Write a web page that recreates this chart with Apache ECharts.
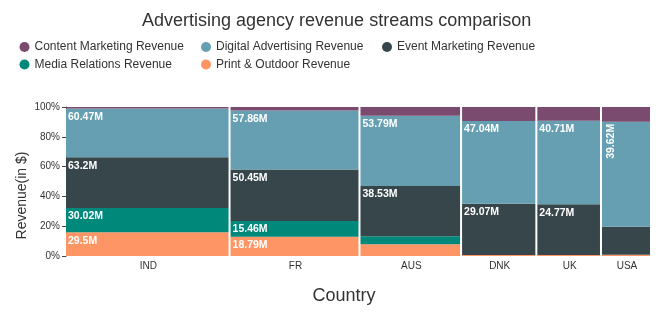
<!DOCTYPE html>
<html>
<head>
<meta charset="utf-8">
<script src="https://cdn.jsdelivr.net/npm/echarts@6/dist/echarts.min.js"></script>
<style>html,body{margin:0;padding:0;background:#fff;}#c{width:664px;height:322px;}</style>
</head>
<body>
<div id="c"></div>
<script>
const countries = ['IND', 'FR', 'AUS', 'DNK', 'UK', 'USA'];
const contentMarketing = [1.8, 3.5, 6.8, 7.9, 6.7, 5.6];
const digitalAdvertising = [60.47, 57.86, 53.79, 47.04, 40.71, 39.62];
const eventMarketing = [63.2, 50.45, 38.53, 29.07, 24.77, 10.5];
const mediaRelations = [30.02, 15.46, 6.0, 0, 0, 0];
const printOutdoor = [29.5, 18.79, 9.1, 0.6, 0.5, 0.5];
const yTicks = [0, 20, 40, 60, 80, 100];

const seriesDefs = [
  { name: 'Print & Outdoor Revenue', values: printOutdoor, color: '#fe9564' },
  { name: 'Media Relations Revenue', values: mediaRelations, color: '#00897b' },
  { name: 'Event Marketing Revenue', values: eventMarketing, color: '#37464b' },
  { name: 'Digital Advertising Revenue', values: digitalAdvertising, color: '#669fb2' },
  { name: 'Content Marketing Revenue', values: contentMarketing, color: '#7a4a6f' }
];

const totals = countries.map((c, i) => seriesDefs.reduce((s, d) => s + d.values[i], 0));
const starts = [];
let acc = 0;
totals.forEach(t => { starts.push(acc); acc += t; });
const grand = acc;
const mids = totals.map((t, i) => starts[i] + t / 2);

const FONT = '"Liberation Sans", Arial, Helvetica, sans-serif';

function renderItem(params, api) {
  const x0 = api.coord([api.value(0), 0])[0];
  const x1 = api.coord([api.value(1), 0])[0] - 2;
  const yTop = api.coord([0, api.value(3)])[1];
  const yBot = api.coord([0, api.value(2)])[1];
  const w = x1 - x0, h = yBot - yTop;
  const children = [{
    type: 'rect',
    shape: { x: x0, y: yTop, width: w, height: h },
    style: { fill: api.visual('color') }
  }];
  const txt = api.value(4) + 'M';
  if (w >= 55 && h >= 15) {
    children.push({
      type: 'text', x: x0 + 2, y: yTop + 3,
      style: { text: txt, fill: '#fff', font: 'bold 10.5px ' + FONT, align: 'left', verticalAlign: 'top' }
    });
  } else if (w < 55 && h >= 45) {
    children.push({
      type: 'text', x: x0 + 9, y: yTop + 2, rotation: Math.PI / 2,
      style: { text: txt, fill: '#fff', font: 'bold 10.5px ' + FONT, align: 'right', verticalAlign: 'middle' }
    });
  }
  return { type: 'group', children: children };
}

const series = seriesDefs.map((d, si) => {
  const data = countries.map((c, i) => {
    let below = 0;
    for (let k = 0; k < si; k++) below += seriesDefs[k].values[i];
    const lo = below / totals[i] * 100;
    const hi = (below + d.values[i]) / totals[i] * 100;
    return [starts[i], starts[i] + totals[i], lo, hi, d.values[i]];
  });
  return {
    type: 'custom', name: d.name, renderItem: renderItem,
    itemStyle: { color: d.color },
    encode: { x: [0, 1], y: [2, 3] },
    data: data, clip: false
  };
});

const legendNames = ['Content Marketing Revenue', 'Digital Advertising Revenue', 'Event Marketing Revenue', 'Media Relations Revenue', 'Print & Outdoor Revenue'];
const legendCols = [14.5, 196, 377];
const legendRows = [36, 53.5];
const legends = legendNames.map((n, i) => ({
  orient: 'horizontal', icon: 'circle', itemWidth: 10, itemHeight: 10,
  left: legendCols[i % 3], top: legendRows[Math.floor(i / 3)],
  textStyle: { fontSize: 12, color: '#333', fontFamily: FONT },
  selectedMode: false, data: [n]
}));

const chart = echarts.init(document.getElementById('c'), null, { renderer: 'canvas' });
chart.setOption({
  animation: false,
  textStyle: { fontFamily: FONT },
  title: {
    text: 'Advertising agency revenue streams comparison',
    left: 137, top: 7.5,
    textStyle: { fontSize: 18, fontWeight: 'normal', color: '#333', fontFamily: FONT }
  },
  legend: legends,
  grid: { left: 66, right: 12, top: 107, bottom: 66 },
  xAxis: {
    type: 'value', min: 0, max: grand,
    name: 'Country', nameLocation: 'middle', nameGap: 31,
    nameTextStyle: { fontSize: 18, color: '#333', padding: [0, 30, 0, 0] },
    axisLine: { show: false }, axisTick: { show: false }, splitLine: { show: false },
    axisLabel: {
      customValues: mids, fontSize: 10, color: '#333', margin: 5,
      formatter: function (v) {
        let best = 0, bd = Infinity;
        mids.forEach((m, i) => { const d = Math.abs(m - v); if (d < bd) { bd = d; best = i; } });
        return countries[best];
      }
    }
  },
  yAxis: {
    type: 'value', min: 0, max: 100, interval: 20,
    name: 'Revenue(in $)', nameLocation: 'middle', nameGap: 37, nameMoveOverlap: false,
    nameTextStyle: { fontSize: 14, color: '#333', padding: [0, 28, 0, 0] },
    axisLine: { show: true, lineStyle: { color: '#444' } },
    axisTick: { show: true, length: 4, lineStyle: { color: '#444' } },
    splitLine: { show: false },
    axisLabel: { fontSize: 10, color: '#333', margin: 6, formatter: '{value}%', customValues: yTicks }
  },
  series: series
});
</script>
</body>
</html>
